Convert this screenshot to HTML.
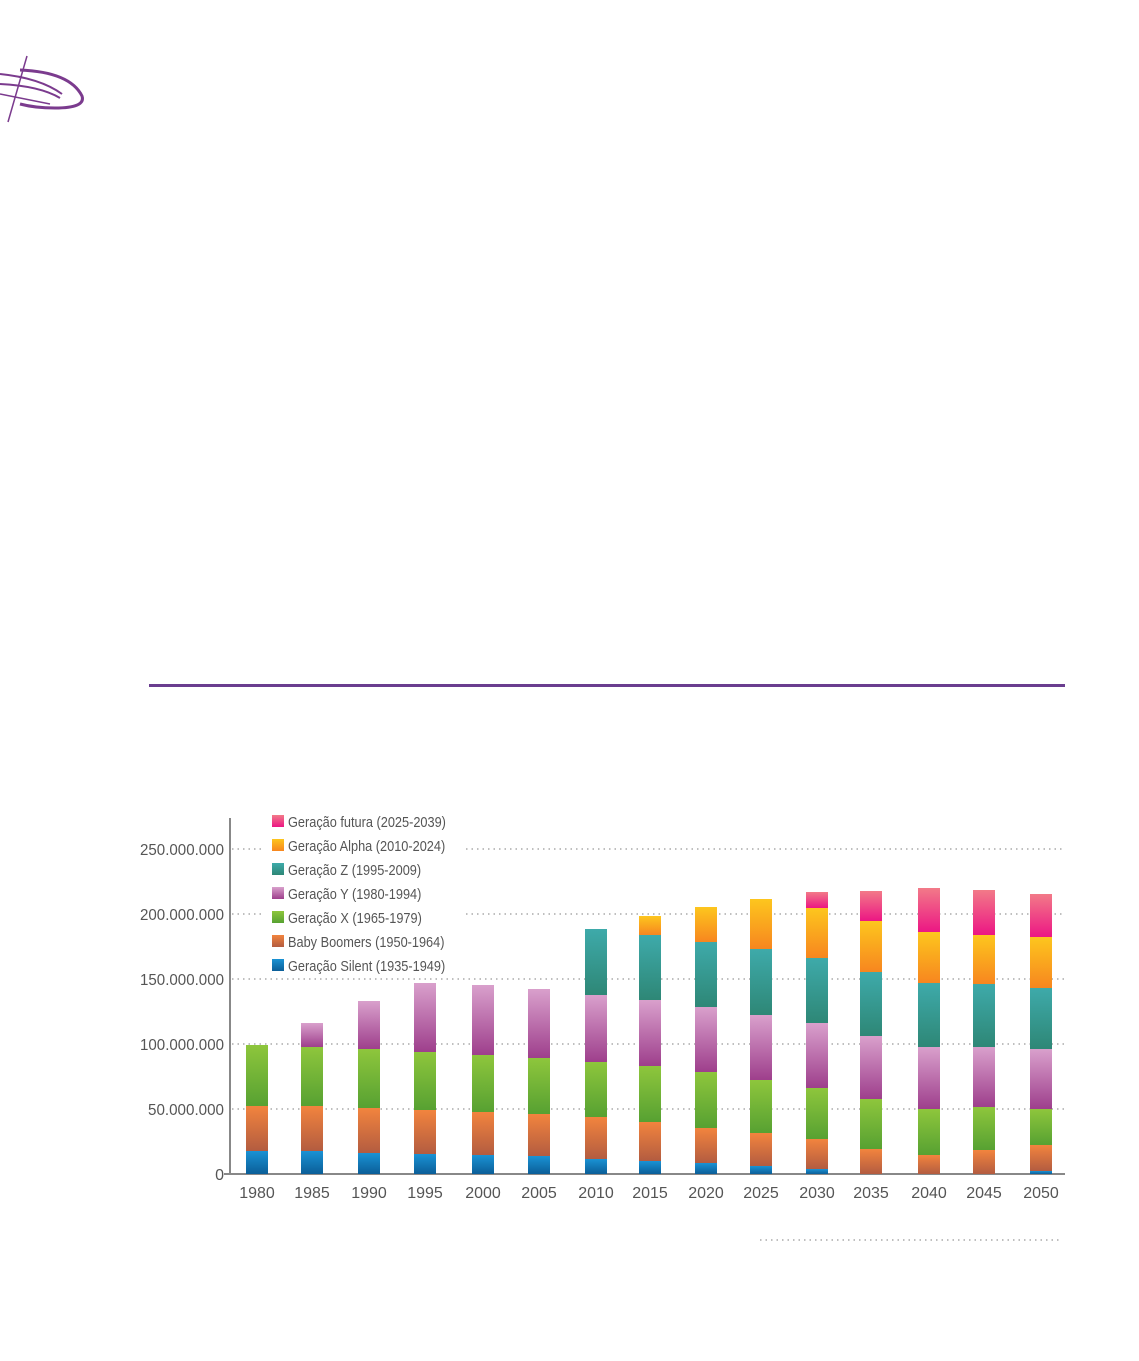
<!DOCTYPE html>
<html><head><meta charset="utf-8"><style>
html,body{margin:0;padding:0;background:#fff;width:1139px;height:1361px;overflow:hidden}
text{font-family:"Liberation Sans",sans-serif;fill:#555}
</style></head><body>
<svg width="1139" height="1361" viewBox="0 0 1139 1361" xmlns="http://www.w3.org/2000/svg">
<defs>
<linearGradient id="g0" x1="0" y1="0" x2="0" y2="1"><stop offset="0" stop-color="#1a92d4"/><stop offset="1" stop-color="#0b5e98"/></linearGradient>
<linearGradient id="g1" x1="0" y1="0" x2="0" y2="1"><stop offset="0" stop-color="#f2843e"/><stop offset="1" stop-color="#b35c40"/></linearGradient>
<linearGradient id="g2" x1="0" y1="0" x2="0" y2="1"><stop offset="0" stop-color="#8ec63c"/><stop offset="1" stop-color="#57a132"/></linearGradient>
<linearGradient id="g3" x1="0" y1="0" x2="0" y2="1"><stop offset="0" stop-color="#d9a0cc"/><stop offset="1" stop-color="#9e3f8c"/></linearGradient>
<linearGradient id="g4" x1="0" y1="0" x2="0" y2="1"><stop offset="0" stop-color="#3eaaaa"/><stop offset="1" stop-color="#2e8776"/></linearGradient>
<linearGradient id="g5" x1="0" y1="0" x2="0" y2="1"><stop offset="0" stop-color="#fdc61e"/><stop offset="1" stop-color="#f7861f"/></linearGradient>
<linearGradient id="g6" x1="0" y1="0" x2="0" y2="1"><stop offset="0" stop-color="#f27a88"/><stop offset="1" stop-color="#ec1684"/></linearGradient>
</defs>
<!-- logo -->
<g fill="none" stroke="#7b3b8e">
<path d="M20 70 Q70 72 82 96 Q86 108 55 108 Q35 108 20 104" stroke-width="3"/>
<path d="M0 74 Q40 78 62 94" stroke-width="2"/>
<path d="M0 84 Q40 86 60 98" stroke-width="2"/>
<path d="M0 94 L50 104" stroke-width="1.5"/>
<path d="M27 56 L8 122" stroke-width="1.5"/>
</g>
<rect x="149" y="684" width="916" height="3" fill="#6a3d8f"/>
<!-- grid -->
<g stroke="#999" stroke-width="1.3" stroke-dasharray="1.5,4">
<line x1="232" y1="849" x2="265" y2="849"/><line x1="466" y1="849" x2="1065" y2="849"/>
<line x1="232" y1="914" x2="265" y2="914"/><line x1="466" y1="914" x2="1065" y2="914"/>
<line x1="232" y1="979" x2="1065" y2="979"/>
<line x1="232" y1="1044" x2="1065" y2="1044"/>
<line x1="232" y1="1109" x2="1065" y2="1109"/>
<line x1="760" y1="1240" x2="1060" y2="1240"/>
</g>
<line x1="230" y1="818" x2="230" y2="1174" stroke="#888" stroke-width="2"/>
<line x1="224" y1="1174" x2="1065" y2="1174" stroke="#888" stroke-width="2"/>
<g font-size="16" text-anchor="end">
<text x="224" y="855" textLength="84" lengthAdjust="spacingAndGlyphs">250.000.000</text>
<text x="224" y="920" textLength="84" lengthAdjust="spacingAndGlyphs">200.000.000</text>
<text x="224" y="985" textLength="84" lengthAdjust="spacingAndGlyphs">150.000.000</text>
<text x="224" y="1050" textLength="84" lengthAdjust="spacingAndGlyphs">100.000.000</text>
<text x="224" y="1115" textLength="76" lengthAdjust="spacingAndGlyphs">50.000.000</text>
<text x="224" y="1180">0</text>
</g>
<g font-size="16" text-anchor="middle">
<text x="257" y="1198">1980</text><text x="312" y="1198">1985</text><text x="369" y="1198">1990</text>
<text x="425" y="1198">1995</text><text x="483" y="1198">2000</text><text x="539" y="1198">2005</text>
<text x="596" y="1198">2010</text><text x="650" y="1198">2015</text><text x="706" y="1198">2020</text>
<text x="761" y="1198">2025</text><text x="817" y="1198">2030</text><text x="871" y="1198">2035</text>
<text x="929" y="1198">2040</text><text x="984" y="1198">2045</text><text x="1041" y="1198">2050</text>
</g>
<!-- legend -->
<rect x="272" y="815" width="12" height="12" fill="url(#g6)"/>
<rect x="272" y="839" width="12" height="12" fill="url(#g5)"/>
<rect x="272" y="863" width="12" height="12" fill="url(#g4)"/>
<rect x="272" y="887" width="12" height="12" fill="url(#g3)"/>
<rect x="272" y="911" width="12" height="12" fill="url(#g2)"/>
<rect x="272" y="935" width="12" height="12" fill="url(#g1)"/>
<rect x="272" y="959" width="12" height="12" fill="url(#g0)"/>
<g font-size="15" transform="translate(288,0) scale(0.85,1)">
<text x="0" y="827">Geração futura (2025-2039)</text>
<text x="0" y="851">Geração Alpha (2010-2024)</text>
<text x="0" y="875">Geração Z (1995-2009)</text>
<text x="0" y="899">Geração Y (1980-1994)</text>
<text x="0" y="923">Geração X (1965-1979)</text>
<text x="0" y="947">Baby Boomers (1950-1964)</text>
<text x="0" y="971">Geração Silent (1935-1949)</text>
</g>
<!-- bars -->
<g>
<rect x="246" y="1151" width="22" height="23" fill="url(#g0)"/><rect x="246" y="1106" width="22" height="45" fill="url(#g1)"/><rect x="246" y="1045" width="22" height="61" fill="url(#g2)"/>
<rect x="301" y="1151" width="22" height="23" fill="url(#g0)"/><rect x="301" y="1106" width="22" height="45" fill="url(#g1)"/><rect x="301" y="1047" width="22" height="59" fill="url(#g2)"/><rect x="301" y="1023" width="22" height="24" fill="url(#g3)"/>
<rect x="358" y="1153" width="22" height="21" fill="url(#g0)"/><rect x="358" y="1108" width="22" height="45" fill="url(#g1)"/><rect x="358" y="1049" width="22" height="59" fill="url(#g2)"/><rect x="358" y="1001" width="22" height="48" fill="url(#g3)"/>
<rect x="414" y="1154" width="22" height="20" fill="url(#g0)"/><rect x="414" y="1110" width="22" height="44" fill="url(#g1)"/><rect x="414" y="1052" width="22" height="58" fill="url(#g2)"/><rect x="414" y="983" width="22" height="69" fill="url(#g3)"/>
<rect x="472" y="1155" width="22" height="19" fill="url(#g0)"/><rect x="472" y="1112" width="22" height="43" fill="url(#g1)"/><rect x="472" y="1055" width="22" height="57" fill="url(#g2)"/><rect x="472" y="985" width="22" height="70" fill="url(#g3)"/>
<rect x="528" y="1156" width="22" height="18" fill="url(#g0)"/><rect x="528" y="1114" width="22" height="42" fill="url(#g1)"/><rect x="528" y="1058" width="22" height="56" fill="url(#g2)"/><rect x="528" y="989" width="22" height="69" fill="url(#g3)"/>
<rect x="585" y="1159" width="22" height="15" fill="url(#g0)"/><rect x="585" y="1117" width="22" height="42" fill="url(#g1)"/><rect x="585" y="1062" width="22" height="55" fill="url(#g2)"/><rect x="585" y="995" width="22" height="67" fill="url(#g3)"/><rect x="585" y="929" width="22" height="66" fill="url(#g4)"/>
<rect x="639" y="1161" width="22" height="13" fill="url(#g0)"/><rect x="639" y="1122" width="22" height="39" fill="url(#g1)"/><rect x="639" y="1066" width="22" height="56" fill="url(#g2)"/><rect x="639" y="1000" width="22" height="66" fill="url(#g3)"/><rect x="639" y="935" width="22" height="65" fill="url(#g4)"/><rect x="639" y="916" width="22" height="19" fill="url(#g5)"/>
<rect x="695" y="1163" width="22" height="11" fill="url(#g0)"/><rect x="695" y="1128" width="22" height="35" fill="url(#g1)"/><rect x="695" y="1072" width="22" height="56" fill="url(#g2)"/><rect x="695" y="1007" width="22" height="65" fill="url(#g3)"/><rect x="695" y="942" width="22" height="65" fill="url(#g4)"/><rect x="695" y="907" width="22" height="35" fill="url(#g5)"/>
<rect x="750" y="1166" width="22" height="8" fill="url(#g0)"/><rect x="750" y="1133" width="22" height="33" fill="url(#g1)"/><rect x="750" y="1080" width="22" height="53" fill="url(#g2)"/><rect x="750" y="1015" width="22" height="65" fill="url(#g3)"/><rect x="750" y="949" width="22" height="66" fill="url(#g4)"/><rect x="750" y="899" width="22" height="50" fill="url(#g5)"/>
<rect x="806" y="1169" width="22" height="5" fill="url(#g0)"/><rect x="806" y="1139" width="22" height="30" fill="url(#g1)"/><rect x="806" y="1088" width="22" height="51" fill="url(#g2)"/><rect x="806" y="1023" width="22" height="65" fill="url(#g3)"/><rect x="806" y="958" width="22" height="65" fill="url(#g4)"/><rect x="806" y="908" width="22" height="50" fill="url(#g5)"/><rect x="806" y="892" width="22" height="16" fill="url(#g6)"/>
<rect x="860" y="1149" width="22" height="25" fill="url(#g1)"/><rect x="860" y="1099" width="22" height="50" fill="url(#g2)"/><rect x="860" y="1036" width="22" height="63" fill="url(#g3)"/><rect x="860" y="972" width="22" height="64" fill="url(#g4)"/><rect x="860" y="921" width="22" height="51" fill="url(#g5)"/><rect x="860" y="891" width="22" height="30" fill="url(#g6)"/>
<rect x="918" y="1155" width="22" height="19" fill="url(#g1)"/><rect x="918" y="1109" width="22" height="46" fill="url(#g2)"/><rect x="918" y="1047" width="22" height="62" fill="url(#g3)"/><rect x="918" y="983" width="22" height="64" fill="url(#g4)"/><rect x="918" y="932" width="22" height="51" fill="url(#g5)"/><rect x="918" y="888" width="22" height="44" fill="url(#g6)"/>
<rect x="973" y="1150" width="22" height="24" fill="url(#g1)"/><rect x="973" y="1107" width="22" height="43" fill="url(#g2)"/><rect x="973" y="1047" width="22" height="60" fill="url(#g3)"/><rect x="973" y="984" width="22" height="63" fill="url(#g4)"/><rect x="973" y="935" width="22" height="49" fill="url(#g5)"/><rect x="973" y="890" width="22" height="45" fill="url(#g6)"/>
<rect x="1030" y="1171" width="22" height="3" fill="url(#g0)"/><rect x="1030" y="1145" width="22" height="26" fill="url(#g1)"/><rect x="1030" y="1109" width="22" height="36" fill="url(#g2)"/><rect x="1030" y="1049" width="22" height="60" fill="url(#g3)"/><rect x="1030" y="988" width="22" height="61" fill="url(#g4)"/><rect x="1030" y="937" width="22" height="51" fill="url(#g5)"/><rect x="1030" y="894" width="22" height="43" fill="url(#g6)"/>
</g>
</svg>
</body></html>
